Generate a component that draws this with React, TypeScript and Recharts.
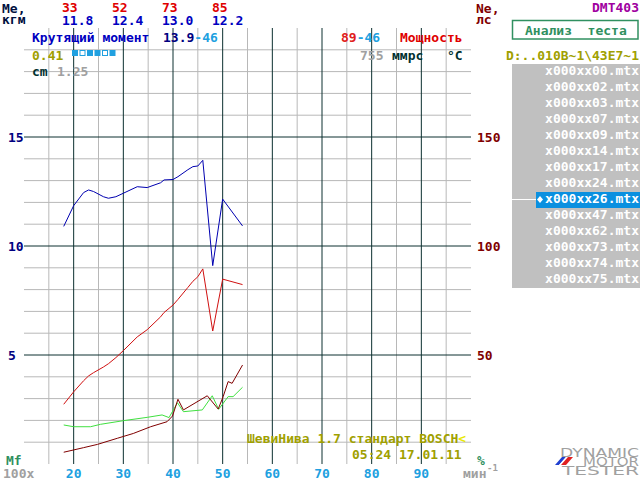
import React from 'react';
import { ComposedChart, Line, XAxis, YAxis, ReferenceLine } from 'recharts';

// axis ticks / grid
const rpmTicks = [20, 30, 40, 50, 60, 70, 80, 90];
const torqueTicks = [5, 10, 15];
const powerTicks = [50, 100, 150];
const minorX = [15, 25, 35, 45, 55, 65, 75, 85, 95];
const minorY = [1, 2, 3, 4, 6, 7, 8, 9, 11, 12, 13, 14, 16, 17, 18, 19];

// torque (kgm) and power (hp) vs rpm (x100)
const torqueRpm = [18, 20, 22, 23, 24, 26, 27, 28.5, 30, 32.8, 34.8, 37.5, 38.2, 40, 41, 43, 44, 45, 46, 48, 50, 54];
const torqueVals = [10.9, 11.85, 12.45, 12.57, 12.5, 12.26, 12.19, 12.26, 12.42, 12.72, 12.68, 12.9, 13.03, 13.05, 13.18, 13.5, 13.64, 13.67, 13.93, 9.1, 12.15, 10.92];
const powerVals = [27.4, 33.1, 38.2, 40.4, 41.9, 44.5, 46.0, 48.8, 52.0, 58.3, 61.6, 67.5, 69.5, 72.9, 75.5, 81.0, 83.8, 85.9, 89.5, 61.0, 84.8, 82.3];

// lower maroon series
const maroonRpm = [18, 22, 24.8, 28.8, 32, 35.5, 38.8, 39.9, 41.0, 42.1, 46.9, 49.1, 50.1, 51.1, 51.9, 54];
const maroonVals = [0.54, 0.75, 0.9, 1.18, 1.4, 1.71, 1.94, 2.2, 2.97, 2.48, 3.13, 2.52, 3.09, 3.78, 3.7, 4.54];

// lower green series
const greenRpm = [18, 20, 23.4, 25.4, 30.1, 34.8, 37.8, 39.2, 40.9, 42.1, 45.9, 47.9, 49.2, 51.1, 52.1, 54];
const greenVals = [1.79, 1.71, 1.71, 1.82, 1.99, 2.14, 2.25, 2.13, 2.81, 2.4, 2.48, 3.13, 2.51, 3.09, 3.09, 3.52];

// header table
const headerPower = ['33', '52', '73', '85'];
const headerTorque = ['11.8', '12.4', '13.0', '12.2'];
const squares = [1, 0, 1, 1, 0, 1];

const files = ['x000xx00.mtx', 'x000xx02.mtx', 'x000xx03.mtx', 'x000xx07.mtx', 'x000xx09.mtx', 'x000xx14.mtx', 'x000xx17.mtx', 'x000xx24.mtx', 'x000xx26.mtx', 'x000xx47.mtx', 'x000xx62.mtx', 'x000xx73.mtx', 'x000xx74.mtx', 'x000xx75.mtx'];
const selectedIndex = 8;

const torqueData = torqueRpm.map((x, i) => ({ x, y: torqueVals[i] }));
const powerData = torqueRpm.map((x, i) => ({ x, y: powerVals[i] }));
const maroonData = maroonRpm.map((x, i) => ({ x, y: maroonVals[i] }));
const greenData = greenRpm.map((x, i) => ({ x, y: greenVals[i] }));

const F: React.CSSProperties = { fontFamily: '"DejaVu Sans Mono", monospace', fontSize: 13, fontWeight: 'bold', whiteSpace: 'pre' };
const LOGO: React.CSSProperties = { fontFamily: '"DejaVu Sans", sans-serif', fontSize: 12, fontWeight: 'normal' };

const XTick = (p: any) => (
  <text x={p.x} y={478} textAnchor="middle" fill="#20a0e0" style={F}>{p.payload.value}</text>
);
const LTick = (p: any) => (
  <text x={8} y={p.y + 5} fill="#000080" style={F}>{p.payload.value}</text>
);
const RTick = (p: any) => (
  <text x={477} y={p.y + 5} fill="#800000" style={F}>{p.payload.value}</text>
);

const MINOR = '#b8b8b8';
const MAJOR = '#0c3030';

export default function App() {
  return (
    <div style={{ position: 'absolute', left: 0, top: 0, width: 640, height: 480, background: '#fff' }}>
      <ComposedChart width={640} height={480} margin={{ top: 28, right: 0, bottom: 0, left: 0 }}>
        <XAxis type="number" dataKey="x" domain={[10, 100]} ticks={rpmTicks} interval={0} height={16} axisLine={false} tickLine={false} tick={XTick} allowDataOverflow />
        <YAxis yAxisId="l" domain={[0, 20]} ticks={torqueTicks} interval={0} width={24} axisLine={false} tickLine={false} tick={LTick} allowDataOverflow />
        <YAxis yAxisId="r" orientation="right" domain={[0, 200]} ticks={powerTicks} interval={0} width={169} axisLine={false} tickLine={false} tick={RTick} allowDataOverflow />
        {minorX.map((v) => (
          <ReferenceLine key={'mx' + v} x={v} yAxisId="l" stroke={MINOR} strokeWidth={1} />
        ))}
        {minorY.map((v) => (
          <ReferenceLine key={'my' + v} y={v} yAxisId="l" stroke={MINOR} strokeWidth={1} />
        ))}
        {rpmTicks.map((v) => (
          <ReferenceLine key={'Mx' + v} x={v} yAxisId="l" stroke={MAJOR} strokeWidth={1} />
        ))}
        {torqueTicks.map((v) => (
          <ReferenceLine key={'My' + v} y={v} yAxisId="l" stroke={MAJOR} strokeWidth={1} />
        ))}
        <Line yAxisId="l" data={greenData} dataKey="y" type="linear" stroke="#40e040" strokeWidth={1} dot={false} isAnimationActive={false} />
        <Line yAxisId="l" data={maroonData} dataKey="y" type="linear" stroke="#800000" strokeWidth={1} dot={false} isAnimationActive={false} />
        <Line yAxisId="r" data={powerData} dataKey="y" type="linear" stroke="#d01010" strokeWidth={1} dot={false} isAnimationActive={false} />
        <Line yAxisId="l" data={torqueData} dataKey="y" type="linear" stroke="#0000b0" strokeWidth={1} dot={false} isAnimationActive={false} />
      </ComposedChart>
      <svg width={640} height={480} style={{ position: 'absolute', left: 0, top: 0, pointerEvents: 'none' }}>
        <text x={2} y={13} fill="#001040" style={F}>Me,</text>
        <text x={2} y={24} fill="#001040" style={F}>кгм</text>
        {headerPower.map((t, i) => (
          <text key={'hp' + i} x={62 + 50 * i} y={12} fill="#e00000" style={F}>{t}</text>
        ))}
        {headerTorque.map((t, i) => (
          <text key={'ht' + i} x={62 + 50 * i} y={25} fill="#0000c0" style={F}>{t}</text>
        ))}
        <text x={32} y={42} fill="#0000c0" style={F}>Крутящий момент</text>
        <text x={163} y={42} style={F}>
          <tspan fill="#000080">13.9</tspan>
          <tspan fill="#20a0e0">-46</tspan>
        </text>
        <text x={341} y={42} style={F}>
          <tspan fill="#e02020">89</tspan>
          <tspan fill="#20a0e0">-46</tspan>
        </text>
        <text x={400} y={42} fill="#e00000" style={F}>Мощность</text>
        <text x={32} y={60} fill="#a0a000" style={F}>0.41</text>
        {squares.map((s, i) => (
          <rect key={'sq' + i} x={72.5 + 7.5 * i} y={50.5} width={5} height={5} fill={s ? '#20a0e0' : '#ffffff'} stroke="#20a0e0" strokeWidth={1} />
        ))}
        <text x={32} y={76} fill="#003030" style={F}>cm</text>
        <text x={57} y={76} fill="#a0a0a0" style={F}>1.25</text>
        <text x={360} y={60} fill="#a0a0a0" style={F}>755</text>
        <text x={392} y={60} fill="#003030" style={F}>ммрс</text>
        <text x={447} y={60} fill="#003030" style={F}>°C</text>
        <text x={476} y={13} fill="#800000" style={F}>Ne,</text>
        <text x={476} y={24} fill="#800000" style={F}>лс</text>
        <text x={639} y={12} textAnchor="end" fill="#a000a0" style={F}>DMT403</text>
        <rect x={512.5} y={20.5} width={125.5} height={18.5} fill="none" stroke="#309060" strokeWidth={1.5} />
        <text x={525} y={35} fill="#309060" style={F}>Анализ  теста</text>
        <text x={639} y={60} textAnchor="end" fill="#a0a000" style={F}>{'D:..010B~1\\43E7~1'}</text>
        <rect x={512} y={64} width={128} height={224} fill="#c0c0c0" />
        <rect x={536} y={64 + 16 * selectedIndex} width={104} height={16} fill="#0a90e0" />
        <line x1={512} x2={536} y1={199.5} y2={199.5} stroke="#ffffff" strokeWidth={1} />
        <polygon points="540,196 543,199.5 540,203 537,199.5" fill="#ffffff" />
        {files.map((f, i) => (
          <text key={f} x={639} y={75 + 16 * i} textAnchor="end" fill="#ffffff" style={F}>{f}</text>
        ))}
        <text x={6} y={465} fill="#309060" style={F}>Mf</text>
        <text x={3} y={478} fill="#a0a0a0" style={F}>100x</text>
        <text x={477} y={465} fill="#309060" style={F}>%</text>
        <text x={463} y={478} fill="#a0a0a0" style={F}>мин</text>
        <text x={487} y={471} fill="#a0a0a0" style={{ ...F, fontSize: 9 }}>-1</text>
        <text x={247} y={443} fill="#a0a000" style={F}>
          ШевиНива 1.7 стандарт BOSCH<tspan fill="#e8e800">&lt;</tspan>
        </text>
        <text x={352} y={459} fill="#a0a000" style={F}>05:24 17.01.11</text>
        <text x={560} y={457} textLength={79} lengthAdjust="spacingAndGlyphs" fill="#a0a0a0" style={LOGO}>DYNAMIC</text>
        <text x={583} y={466} textLength={56} lengthAdjust="spacingAndGlyphs" fill="#a0a0a0" style={LOGO}>MOTOR</text>
        <text x={562} y={475} textLength={77} lengthAdjust="spacingAndGlyphs" fill="#a0a0a0" style={LOGO}>TESTER</text>
        <polygon points="555,465 559,465 566,457 562,457" fill="#2040d0" />
        <polygon points="559,465 561,465 568,457 566,457" fill="#ffffff" />
        <polygon points="561,465 566,465 573,457 568,457" fill="#e02020" />
      </svg>
    </div>
  );
}
